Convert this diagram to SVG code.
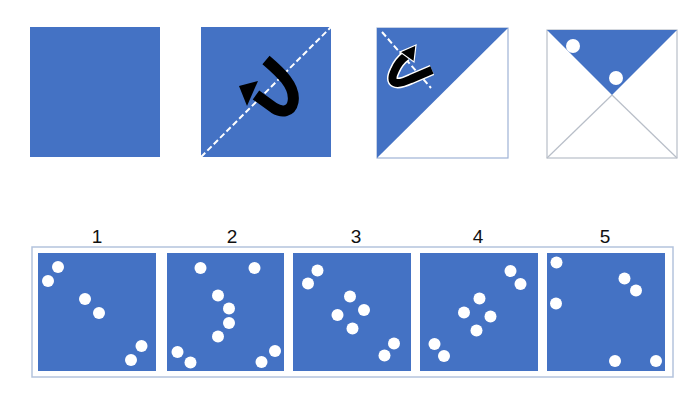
<svg xmlns="http://www.w3.org/2000/svg" width="700" height="415" viewBox="0 0 700 415">
<style>
.blue{fill:#4472c4}
.dot{fill:#ffffff}
.lbl{font-family:"Liberation Sans","Noto Sans",sans-serif;font-size:19px;fill:#111;text-anchor:middle}
.frame{fill:none;stroke:#b4c3dd;stroke-width:1.5}
.thin{fill:none;stroke:#b8bec8;stroke-width:1.2}
.dash{stroke:#ffffff;stroke-width:2;stroke-dasharray:6 3;fill:none}
</style>
<rect width="700" height="415" fill="#ffffff"/>
<g id="square1">
<rect class="blue" x="30" y="27" width="130" height="130"/>
</g>
<g id="square2">
<rect class="blue" x="201" y="27" width="130" height="130"/>
<line class="dash" x1="201" y1="157" x2="331" y2="27"/>
<path d="M266,60 C280,72 296,86 293,102 C291,112 282,113 274,108 L256,95" fill="none" stroke="#000" stroke-width="11"/>
<polygon points="239,86 258,81 247,106" fill="#000"/>
</g>
<g id="square3">
<rect x="377" y="28" width="131" height="130" fill="#ffffff" stroke="#9fb3d6" stroke-width="1.2"/>
<polygon class="blue" points="377,28 508,28 377,158"/>
<line class="dash" x1="382" y1="32" x2="431" y2="88"/>
<path d="M432,70 L411,79 C396,86 388,84 395,70 C398,63 402,59 406,56" fill="none" stroke="#fff" stroke-width="11"/>
<path d="M432,70 L411,79 C396,86 388,84 395,70 C398,63 402,59 406,56" fill="none" stroke="#000" stroke-width="8"/>
<polygon points="416,45 400,52 414,62" fill="#000" stroke="#fff" stroke-width="1.2"/>
</g>
<g id="square4">
<rect x="547" y="30" width="130" height="128" fill="#ffffff" class="thin"/>
<line class="thin" x1="547" y1="158" x2="612" y2="95"/>
<line class="thin" x1="677" y1="158" x2="612" y2="95"/>
<polygon class="blue" points="547,30 677,30 612,95"/>
<circle class="dot" cx="573" cy="46" r="7"/>
<circle class="dot" cx="616" cy="78" r="7"/>
</g>
<g id="options">
<rect class="frame" x="32" y="247" width="641" height="130"/>
<text class="lbl" x="97" y="243">1</text>
<text class="lbl" x="232" y="243">2</text>
<text class="lbl" x="356" y="243">3</text>
<text class="lbl" x="478" y="243">4</text>
<text class="lbl" x="605" y="243">5</text>
</g>
<g id="option1">
<rect class="blue" x="38" y="253" width="118" height="118"/>
<circle class="dot" cx="58" cy="267" r="6"/>
<circle class="dot" cx="48" cy="281" r="6"/>
<circle class="dot" cx="85" cy="299" r="6"/>
<circle class="dot" cx="99" cy="313" r="6"/>
<circle class="dot" cx="141.5" cy="346" r="6"/>
<circle class="dot" cx="131" cy="360" r="6"/>
</g>
<g id="option2">
<rect class="blue" x="167" y="253" width="117" height="118"/>
<circle class="dot" cx="200.5" cy="268" r="6"/>
<circle class="dot" cx="254.5" cy="268" r="6"/>
<circle class="dot" cx="218" cy="295.5" r="6"/>
<circle class="dot" cx="229" cy="308.5" r="6"/>
<circle class="dot" cx="229" cy="323" r="6"/>
<circle class="dot" cx="218" cy="336.5" r="6"/>
<circle class="dot" cx="177.5" cy="352" r="6"/>
<circle class="dot" cx="190.5" cy="362.5" r="6"/>
<circle class="dot" cx="275" cy="351" r="6"/>
<circle class="dot" cx="261.5" cy="362" r="6"/>
</g>
<g id="option3">
<rect class="blue" x="293" y="253" width="118" height="118"/>
<circle class="dot" cx="317.5" cy="270.5" r="6"/>
<circle class="dot" cx="308" cy="283.5" r="6"/>
<circle class="dot" cx="350" cy="296.5" r="6"/>
<circle class="dot" cx="337.5" cy="315" r="6"/>
<circle class="dot" cx="364" cy="310" r="6"/>
<circle class="dot" cx="352.5" cy="328.5" r="6"/>
<circle class="dot" cx="394" cy="343.5" r="6"/>
<circle class="dot" cx="384.5" cy="355.5" r="6"/>
</g>
<g id="option4">
<rect class="blue" x="420" y="253" width="118" height="118"/>
<circle class="dot" cx="510.5" cy="271" r="6"/>
<circle class="dot" cx="520.5" cy="284" r="6"/>
<circle class="dot" cx="479.5" cy="298.5" r="6"/>
<circle class="dot" cx="464" cy="312.5" r="6"/>
<circle class="dot" cx="490.5" cy="316.5" r="6"/>
<circle class="dot" cx="476.5" cy="330.5" r="6"/>
<circle class="dot" cx="434.5" cy="344" r="6"/>
<circle class="dot" cx="444" cy="356" r="6"/>
</g>
<g id="option5">
<rect class="blue" x="547" y="253" width="118" height="118"/>
<circle class="dot" cx="556.5" cy="262.5" r="6"/>
<circle class="dot" cx="556" cy="303.5" r="6"/>
<circle class="dot" cx="624.5" cy="278.5" r="6"/>
<circle class="dot" cx="636" cy="290.5" r="6"/>
<circle class="dot" cx="615" cy="361" r="6"/>
<circle class="dot" cx="656" cy="361" r="6"/>
</g>
</svg>
